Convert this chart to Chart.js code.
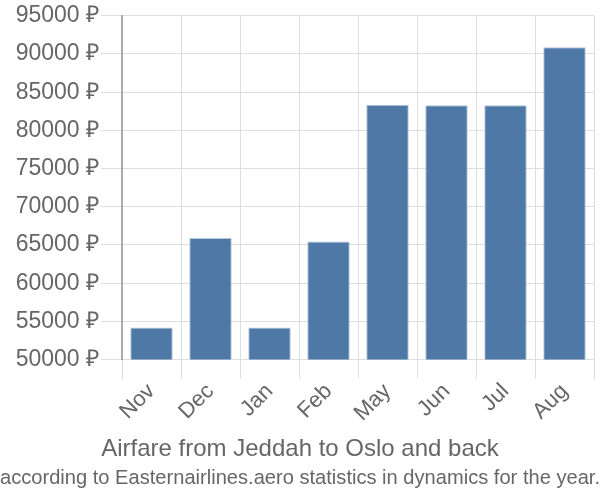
<!DOCTYPE html>
<html>
<head>
<meta charset="utf-8">
<script src="https://cdn.jsdelivr.net/npm/chart.js"></script>
<style>
    body { margin: 0; background: #fff; }
</style>
</head>
<body>
<canvas id="myChart" width="600" height="500"></canvas>

<script>
    // chart data
    var months = ['Nov', 'Dec', 'Jan', 'Feb', 'May', 'Jun', 'Jul', 'Aug'];
    var prices = [54200, 65900, 54200, 65450, 83360, 83280, 83280, 90870];
    var yMin = 50000;
    var yMax = 95000;
    var yStep = 5000;
    var titleText = 'Airfare from Jeddah to Oslo and back';
    var subtitleText = 'according to Easternairlines.aero statistics in dynamics for the year.';

    Chart.defaults.font.family = "'Liberation Sans', Arial, sans-serif";
    Chart.defaults.color = '#666';

    var ctx = document.getElementById('myChart').getContext('2d');
    var myChart = new Chart(ctx, {
        type: 'bar',
        data: {
            labels: months,
            datasets: [{
                data: prices,
                backgroundColor: '#4e79a7',
                borderColor: '#b4c8dc',
                borderWidth: 1,
                categoryPercentage: 0.72,
                barPercentage: 1
            }]
        },
        options: {
            responsive: false,
            animation: false,
            layout: { padding: { top: 7, right: 0, left: 0, bottom: 5 } },
            plugins: {
                legend: { display: false },
                tooltip: { enabled: false },
                title: {
                    display: true,
                    position: 'bottom',
                    text: titleText,
                    weight: 1000,
                    color: '#666',
                    font: { size: 24, weight: 'normal' },
                    padding: { top: 8, bottom: 3 }
                },
                subtitle: {
                    display: true,
                    position: 'bottom',
                    text: subtitleText,
                    weight: 1500,
                    color: '#666',
                    font: { family: "'Liberation Sans Narrow', 'Liberation Sans', Arial", size: 20.5 },
                    padding: { top: 0, bottom: 4 }
                }
            },
            scales: {
                x: {
                    grid: { color: '#ddd', offset: true, tickLength: 19 },
                    border: { color: '#ddd' },
                    ticks: {
                        font: { size: 22 },
                        minRotation: 45,
                        maxRotation: 45,
                        padding: 0
                    }
                },
                y: {
                    min: yMin,
                    max: yMax,
                    grid: { color: '#ddd', tickLength: 21 },
                    border: { color: '#aaa', width: 2 },
                    ticks: {
                        stepSize: yStep,
                        font: { size: 23 },
                        padding: 2,
                        callback: function (v) { return v + ' ₽'; }
                    },
                    afterFit: function (s) { s.width = 122; }
                },
                // empty right axis, only keeps a small gap at the right edge
                yRight: {
                    position: 'right',
                    grid: { display: false },
                    border: { display: false },
                    ticks: { display: false },
                    afterFit: function (s) { s.width = 6; }
                }
            }
        }
    });
</script>
</body>
</html>
